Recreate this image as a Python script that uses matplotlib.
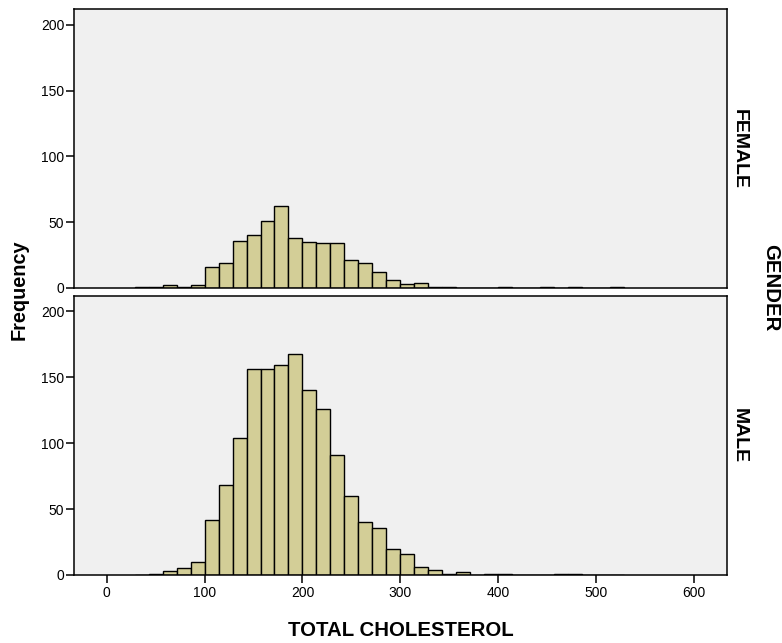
"""
Histogram of total cholesterol by gender (two panels)
"""
import matplotlib.pyplot as plt
import numpy as np

plt.rcParams['font.family'] = ['Liberation Sans', 'DejaVu Sans']
plt.rcParams.update({'font.size': 10})

# bins: width 100/7, first left edge at 100 - 5 * width
bin_width = 100 / 7
bin_lefts = 100 + bin_width * np.arange(-5, 30)

female_counts = [1, 1, 2, 1, 2, 16, 19, 36, 40, 51, 62, 38, 35, 34, 34, 21, 19, 12,
                 6, 3, 4, 1, 1, 0, 0, 0, 1, 0, 0, 1, 0, 1, 0, 0, 1]
male_counts = [0, 1, 3, 5, 10, 42, 68, 104, 156, 156, 159, 168, 140, 126, 91, 60, 40, 36,
               20, 16, 6, 4, 1, 2, 0, 1, 1, 0, 0, 0, 1, 1, 0, 0, 0]
panels = ['FEMALE', 'MALE']
x_ticks = [0, 100, 200, 300, 400, 500, 600]
y_ticks = [0, 50, 100, 150, 200]

bar_color = '#D3CE97'
bg_color = '#F0F0F0'

fig = plt.figure(figsize=(7.82, 6.43), dpi=100)
ax_f = fig.add_axes([0.0946, 0.5521, 0.8351, 0.4339])
ax_m = fig.add_axes([0.0946, 0.1058, 0.8351, 0.4346])

for ax, counts, name in zip([ax_f, ax_m], [female_counts, male_counts], panels):
    ax.set_facecolor(bg_color)
    ax.bar(bin_lefts, counts, width=bin_width, align='edge',
           color=bar_color, edgecolor='black', linewidth=1.0)
    ax.set_xlim(-33.4, 633.7)
    ax.set_ylim(0, 212)
    ax.set_yticks(y_ticks)
    for s in ax.spines.values():
        s.set_linewidth(1.1)
    ax.tick_params(axis='y', length=6, width=1.1, pad=1, labelsize=10)
    ax.tick_params(axis='x', length=6, width=1.1, pad=2, labelsize=10)
    # panel label on the right
    ax.text(1.006, 0.5, name, transform=ax.transAxes, rotation=-90,
            ha='left', va='center', fontsize=14, fontweight='bold')

ax_f.set_xticks([])
ax_m.set_xticks(x_ticks)

# shared labels
fig.text(0.024, 0.549, 'Frequency', rotation=90, ha='center', va='center',
         fontsize=14.3, fontweight='bold')
fig.text(0.513, 0.019, 'TOTAL CHOLESTEROL', ha='center', va='center',
         fontsize=14.7, fontweight='bold')
fig.text(0.985, 0.553, 'GENDER', rotation=-90, ha='center', va='center',
         fontsize=14.7, fontweight='bold')

plt.savefig('out.png', dpi=100)
